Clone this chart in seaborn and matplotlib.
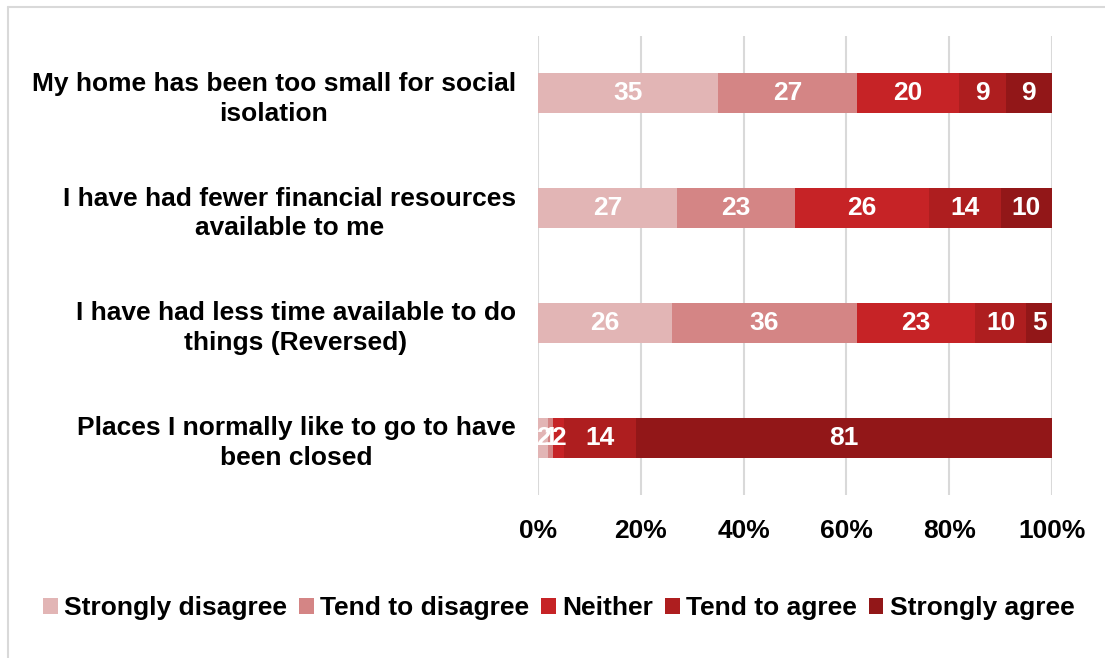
import numpy as np
import pandas as pd
import matplotlib
matplotlib.use("Agg")
import matplotlib.pyplot as plt
from matplotlib.lines import Line2D
from matplotlib.patches import Patch
import seaborn as sns

# Survey statements (top to bottom) and response shares in percent
statements = [
    "My home has been too small for social\nisolation",
    "I have had fewer financial resources\navailable to me",
    "I have had less time available to do\nthings (Reversed)",
    "Places I normally like to go to have\nbeen closed",
]
responses = ["Strongly disagree", "Tend to disagree", "Neither",
             "Tend to agree", "Strongly agree"]
strongly_disagree = [35, 27, 26, 2]
tend_to_disagree = [27, 23, 36, 1]
neither = [20, 26, 23, 2]
tend_to_agree = [9, 14, 10, 14]
strongly_agree = [9, 10, 5, 81]
x_ticks = [0, 20, 40, 60, 80, 100]
x_tick_labels = ["0%", "20%", "40%", "60%", "80%", "100%"]

colors = ["#E2B5B5", "#D48585", "#C62326", "#AE1E1F", "#921718"]

sns.set_theme(style="white")
plt.rcParams["font.family"] = ["Liberation Sans", "DejaVu Sans"]
plt.rcParams["font.weight"] = "bold"
plt.rcParams["text.color"] = "black"
plt.rcParams["xtick.color"] = "black"
plt.rcParams["ytick.color"] = "black"

series = [strongly_disagree, tend_to_disagree, neither, tend_to_agree, strongly_agree]
df = pd.DataFrame({"statement": statements})
for name, vals in zip(responses, series):
    df[name] = vals
cum = df[responses].cumsum(axis=1)

fig = plt.figure(figsize=(11.05, 6.58), dpi=100)
ax = fig.add_axes([538 / 1105, 1 - 495 / 658, (1052 - 538) / 1105, (495 - 36) / 658])

# Stacked bars: draw cumulative totals from the outermost segment inwards
for name, col in reversed(list(zip(responses, colors))):
    sns.barplot(data=cum.assign(statement=statements), x=name, y="statement",
                color=col, width=0.35, orient="h", ax=ax, saturation=1,
                edgecolor="none", linewidth=0)

# Value labels centred in each segment
for i in range(len(statements)):
    for name in responses:
        v = df.loc[i, name]
        centre = cum.loc[i, name] - v / 2
        ax.text(centre, i, f"{v}", ha="center", va="center", color="white",
                fontsize=19, fontweight="bold")

ax.set_xlim(0, 100)
ax.set_ylim(3.5, -0.5)
ax.set_xticks(x_ticks)
ax.set_xticklabels(x_tick_labels, fontsize=19, fontweight="bold", color="black")
ax.set_yticks(range(len(statements)))
ax.set_yticklabels(statements, fontsize=19, fontweight="bold", color="black",
                   multialignment="center", linespacing=1.3)
ax.set_xlabel("")
ax.set_ylabel("")
ax.tick_params(axis="x", length=0, pad=17)
ax.tick_params(axis="y", length=0, pad=16)
for s in ax.spines.values():
    s.set_visible(False)
ax.grid(axis="x", color="#D9D9D9", linewidth=1.5)
ax.grid(axis="y", visible=False)
ax.set_axisbelow(True)

handles = [Patch(facecolor=c, edgecolor="none") for c in colors]
leg = fig.legend(handles, responses, loc="center",
                 bbox_to_anchor=(559 / 1105, 1 - 608 / 658),
                 ncol=5, frameon=False, handlelength=0.55, handleheight=0.55,
                 handletextpad=0.25, columnspacing=0.45,
                 prop={"weight": "bold", "size": 19})
for t in leg.get_texts():
    t.set_color("black")

# Thin frame along the top and left edges
fig.add_artist(Line2D([8 / 1105, 8 / 1105], [0, 1 - 7 / 658], transform=fig.transFigure,
                      color="#D9D9D9", linewidth=1.5))
fig.add_artist(Line2D([8 / 1105, 1], [1 - 7 / 658, 1 - 7 / 658], transform=fig.transFigure,
                      color="#D9D9D9", linewidth=1.5))

fig.savefig("out.png", dpi=100, facecolor="white")
